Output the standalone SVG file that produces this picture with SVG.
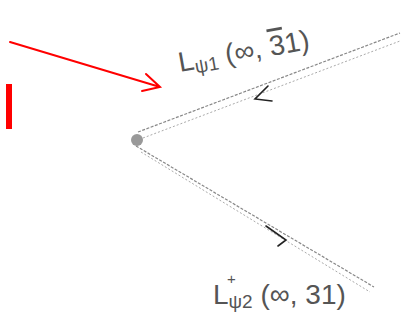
<svg xmlns="http://www.w3.org/2000/svg" width="403" height="324" viewBox="0 0 403 324">
<style>
.pencil{stroke:#888;stroke-width:1.2;fill:none;stroke-dasharray:3 1.5}
.pencil2{stroke:#aaa;stroke-width:1;fill:none;stroke-dasharray:2 2}
.ink{stroke:#222;stroke-width:1.6;fill:none;stroke-linecap:round}
.red{stroke:#f00;stroke-width:2;fill:none;stroke-linecap:round}
.lbl{font-family:"Liberation Sans",sans-serif;fill:#555}
</style>
<rect width="403" height="324" fill="#fff"/>
<g id="connectors">
  <path class="pencil" d="M138,132 L400,33"/>
  <path class="pencil2" d="M143,138 L400,41"/>
  <path class="pencil" d="M136,146 L374,287"/>
  <path class="pencil2" d="M141,152 L370,292"/>
  <path class="ink" d="M268,86 L255,99 L272,101"/>
  <path class="ink" d="M266,226 L286,240 L278,246"/>
  <path class="red" d="M10,42 L160,87 M146,74 L160,87 L142,91"/>
</g>
<g id="vertex">
  <circle cx="137" cy="140" r="6" fill="#999"/>
</g>
<g id="bar">
  <rect x="6" y="84" width="6" height="45" fill="#f00"/>
</g>
<g id="label-upper">
  <text class="lbl" x="180" y="72" font-size="28" transform="rotate(-10 180 72)">L<tspan font-size="19" dy="4">ψ1</tspan><tspan dy="-4"> (∞, </tspan><tspan text-decoration="overline">3</tspan>1)</text>
</g>
<g id="label-lower">
  <text class="lbl" x="213" y="304" font-size="28">L<tspan font-size="19" dy="4">ψ2</tspan><tspan dy="-4"> (∞, 31)</tspan></text>
  <text class="lbl" x="227" y="284" font-size="15">+</text>
</g>
</svg>
